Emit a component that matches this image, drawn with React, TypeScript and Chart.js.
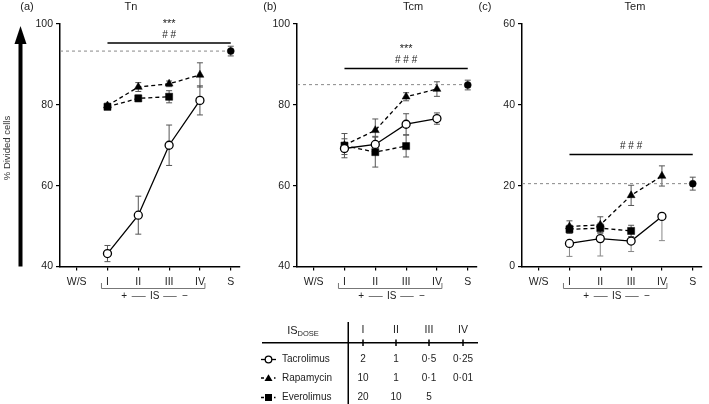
import React, { useEffect, useRef } from 'react';
import { Chart, registerables } from 'chart.js';
Chart.register(...registerables);

const FONT = '"Liberation Sans", Arial, Helvetica, sans-serif';

// ---------- data ----------
const xLabels = ['W/S', 'I', 'II', 'III', 'IV', 'S'];
const doseX = [1, 2, 3, 4];
const sX = 5;

// (a) Tn
const tnTac = [43.2, 52.7, 70.0, 81.1];
const tnTacErr = [2.0, 4.7, 5.0, 3.6];
const tnRapa = [79.8, 84.4, 85.2, 87.4];
const tnRapaErr = [0.6, 1.1, 0.7, 3.0];
const tnEver = [79.5, 81.6, 82.0];
const tnEverErr = [0.6, 0.8, 1.5];
const tnS = 93.3;
const tnSErr = 1.2;
const tnRef = 93.3;
const tnSig = 95.3;

// (b) Tcm
const tcmTac = [69.2, 70.2, 75.2, 76.6];
const tcmTacErr = [1.5, 2.0, 2.6, 1.4];
const tcmRapa = [70.0, 73.7, 82.0, 83.9];
const tcmRapaErr = [1.6, 2.8, 1.0, 1.8];
const tcmEver = [69.9, 68.3, 69.8];
const tcmEverErr = [3.0, 3.7, 2.7];
const tcmS = 84.9;
const tcmSErr = 1.2;
const tcmRef = 85.0;
const tcmSig = 89.0;

// (c) Tem
const temTac = [5.7, 6.9, 6.3, 12.4];
const temTacErr = [3.2, 4.3, 2.6, 6.0];
const temRapa = [9.9, 10.3, 17.6, 22.4];
const temRapaErr = [1.4, 2.0, 2.5, 2.5];
const temEver = [9.2, 9.5, 8.8];
const temEverErr = [1.0, 1.2, 1.4];
const temS = 20.5;
const temSErr = 1.6;
const temRef = 20.5;
const temSig = 27.7;

// table
const tableCols = ['I', 'II', 'III', 'IV'];
const drugNames = ['Tacrolimus', 'Rapamycin', 'Everolimus'];
const tacDoses = ['2', '1', '0·5', '0·25'];
const rapaDoses = ['10', '1', '0·1', '0·01'];
const everDoses = ['20', '10', '5', ''];

// ---------- layout ----------
const YW = 40;
const AREA_W = 180;
const PAD_R = 6;
const CANVAS_H = 310;
const AREA_TOP = 24;
const AREA_BOTTOM = 266.5;

type PanelCfg = {
  letter: string; title: string; x0: number; letterX: number; titleX: number;
  yMin: number; yMax: number;
  tac: number[]; tacErr: number[]; tacErrDown: boolean;
  rapa: number[]; rapaErr: number[];
  ever: number[]; everErr: number[];
  s: number; sErr: number; refY: number; sigY: number; sigTexts: string[];
};

const panels: PanelCfg[] = [
  { letter: '(a)', title: 'Tn', x0: 60, letterX: 27, titleX: 131, yMin: 40, yMax: 100,
    tac: tnTac, tacErr: tnTacErr, tacErrDown: false, rapa: tnRapa, rapaErr: tnRapaErr,
    ever: tnEver, everErr: tnEverErr, s: tnS, sErr: tnSErr, refY: tnRef, sigY: tnSig, sigTexts: ['***', '# #'] },
  { letter: '(b)', title: 'Tcm', x0: 297, letterX: 270, titleX: 413, yMin: 40, yMax: 100,
    tac: tcmTac, tacErr: tcmTacErr, tacErrDown: false, rapa: tcmRapa, rapaErr: tcmRapaErr,
    ever: tcmEver, everErr: tcmEverErr, s: tcmS, sErr: tcmSErr, refY: tcmRef, sigY: tcmSig, sigTexts: ['***', '# # #'] },
  { letter: '(c)', title: 'Tem', x0: 522, letterX: 485, titleX: 635, yMin: 0, yMax: 60,
    tac: temTac, tacErr: temTacErr, tacErrDown: true, rapa: temRapa, rapaErr: temRapaErr,
    ever: temEver, everErr: temEverErr, s: temS, sErr: temSErr, refY: temRef, sigY: temSig, sigTexts: ['# # #'] },
];

const errorBarPlugin = {
  id: 'errbars',
  beforeDatasetsDraw(chart: any) {
    const ctx = chart.ctx;
    const xs = chart.scales.x;
    const ys = chart.scales.y;
    chart.data.datasets.forEach((ds: any) => {
      if (!ds.errors) return;
      ctx.save();
      ctx.strokeStyle = ds.errColor || '#555';
      ctx.lineWidth = 1;
      ds.data.forEach((p: any, i: number) => {
        const e = ds.errors[i];
        if (e == null) return;
        const x = xs.getPixelForValue(p.x);
        const yTop = ys.getPixelForValue(p.y + (ds.errDown ? 0 : e));
        const yBot = ys.getPixelForValue(p.y - e);
        ctx.beginPath();
        ctx.moveTo(x, yTop);
        ctx.lineTo(x, yBot);
        if (!ds.errDown) {
          ctx.moveTo(x - 3, yTop);
          ctx.lineTo(x + 3, yTop);
        }
        ctx.moveTo(x - 3, yBot);
        ctx.lineTo(x + 3, yBot);
        ctx.stroke();
      });
      ctx.restore();
    });
  },
};

function Panel({ cfg }: { cfg: PanelCfg }) {
  const ref = useRef<HTMLCanvasElement>(null);
  const left = cfg.x0 - YW;
  const width = YW + AREA_W + PAD_R;

  useEffect(() => {
    const pts = (vals: number[]) => vals.map((v, i) => ({ x: doseX[i], y: v }));
    const overlay = {
      id: 'overlay',
      afterDraw(chart: any) {
        const ctx = chart.ctx;
        const xs = chart.scales.x;
        const ys = chart.scales.y;
        ctx.save();
        ctx.fillStyle = '#222';
        ctx.textAlign = 'center';
        ctx.textBaseline = 'middle';
        // significance labels
        const mid = (xs.getPixelForValue(1) + xs.getPixelForValue(5)) / 2;
        const ly = ys.getPixelForValue(cfg.sigY);
        const n = cfg.sigTexts.length;
        cfg.sigTexts.forEach((t, i) => {
          const off = 8 + (n - 1 - i) * 14;
          const isStar = t.indexOf('*') >= 0;
          ctx.font = `${isStar ? 11 : 10}px ${FONT}`;
          ctx.fillText(t, mid, ly - off + (isStar ? 3 : 0));
        });
        // bracket under I..IV
        const p1 = xs.getPixelForValue(1);
        const p4 = xs.getPixelForValue(4);
        const b1 = p1 - 6;
        const b2 = p4 + 5;
        ctx.strokeStyle = '#777';
        ctx.lineWidth = 1;
        ctx.beginPath();
        ctx.moveTo(b1, 283);
        ctx.lineTo(b1, 288.5);
        ctx.lineTo(b2, 288.5);
        ctx.lineTo(b2, 283);
        ctx.stroke();
        const m = (p1 + p4) / 2;
        ctx.font = `10px ${FONT}`;
        ctx.fillText('+', m - 29.5, 296.5);
        ctx.fillText('IS', m + 1, 296.5);
        ctx.fillText('−', m + 31.5, 296.5);
        ctx.beginPath();
        ctx.moveTo(m - 22, 296.5);
        ctx.lineTo(m - 8, 296.5);
        ctx.moveTo(m + 9.5, 296.5);
        ctx.lineTo(m + 23, 296.5);
        ctx.stroke();
        ctx.restore();
      },
    };

    const tickFont = { family: FONT, size: 10.5 };
    const chart = new Chart(ref.current as HTMLCanvasElement, {
      type: 'line',
      data: {
        datasets: [
          {
            data: pts(cfg.tac), errors: cfg.tacErr, errDown: cfg.tacErrDown, errColor: cfg.tacErrDown ? '#888' : '#555',
            borderColor: '#000', borderWidth: 1.3, pointStyle: 'circle', pointRadius: 4,
            pointBackgroundColor: '#fff', pointBorderColor: '#000', pointBorderWidth: 1.3, clip: false,
          } as any,
          {
            data: pts(cfg.rapa), errors: cfg.rapaErr,
            borderColor: '#000', borderWidth: 1.3, borderDash: [4, 3], pointStyle: 'triangle', pointRadius: 4.6,
            pointBackgroundColor: '#000', pointBorderColor: '#000', pointBorderWidth: 0.5, clip: false,
          } as any,
          {
            data: pts(cfg.ever), errors: cfg.everErr,
            borderColor: '#000', borderWidth: 1.3, borderDash: [4, 3], pointStyle: 'rect', pointRadius: 5,
            pointBackgroundColor: '#000', pointBorderColor: '#000', pointBorderWidth: 0.5, clip: false,
          } as any,
          {
            data: [{ x: sX, y: cfg.s }], errors: [cfg.sErr],
            showLine: false, pointStyle: 'circle', pointRadius: 3.5,
            pointBackgroundColor: '#000', pointBorderColor: '#000', pointBorderWidth: 0.5, clip: false,
          } as any,
          {
            data: [{ x: -0.54, y: cfg.refY }, { x: sX, y: cfg.refY }],
            borderColor: '#888', borderWidth: 1, borderDash: [3, 3], pointRadius: 0, clip: false,
          } as any,
          {
            data: [{ x: 1, y: cfg.sigY }, { x: sX, y: cfg.sigY }],
            borderColor: '#000', borderWidth: 1.4, pointRadius: 0, clip: false,
          } as any,
        ],
      },
      options: {
        animation: false,
        responsive: false,
        devicePixelRatio: 1,
        layout: { padding: { top: AREA_TOP, right: PAD_R, left: 0, bottom: 0 } },
        plugins: { legend: { display: false }, tooltip: { enabled: false }, title: { display: false } },
        scales: {
          x: {
            type: 'linear', min: -0.54, max: 5.3,
            afterBuildTicks: (s: any) => { s.ticks = [0, 1, 2, 3, 4, 5].map((v) => ({ value: v })); },
            afterFit: (s: any) => { s.height = CANVAS_H - AREA_BOTTOM; },
            ticks: {
              autoSkip: false, maxRotation: 0, minRotation: 0, padding: 5, color: '#222', font: tickFont,
              callback: (v: any) => xLabels[v] ?? '',
            },
            grid: { drawOnChartArea: false, drawTicks: true, tickLength: 4, color: '#000', lineWidth: 1.2 },
            border: { display: true, color: '#000', width: 1.5 },
          },
          y: {
            type: 'linear', min: cfg.yMin, max: cfg.yMax,
            afterFit: (s: any) => { s.width = YW; },
            ticks: { stepSize: 20, padding: 3, color: '#222', font: tickFont },
            grid: { drawOnChartArea: false, drawTicks: true, tickLength: 4, color: '#000', lineWidth: 1.2 },
            border: { display: true, color: '#000', width: 1.5 },
          },
        },
      } as any,
      plugins: [errorBarPlugin, overlay],
    });
    return () => chart.destroy();
  }, []);

  return (
    <canvas
      ref={ref}
      width={width}
      height={CANVAS_H}
      style={{ position: 'absolute', left, top: 0, width, height: CANVAS_H }}
    />
  );
}

const colX = [363, 396, 429, 463];
const rowY = [359.5, 378, 397.5];

// Background canvas: panel letters/titles, arrow, y label and the dose table
function Decor() {
  const ref = useRef<HTMLCanvasElement>(null);
  useEffect(() => {
    const c = ref.current as HTMLCanvasElement;
    const ctx = c.getContext('2d') as CanvasRenderingContext2D;
    ctx.clearRect(0, 0, 709, 404);
    ctx.fillStyle = '#222';
    ctx.strokeStyle = '#000';
    ctx.textBaseline = 'middle';
    ctx.textAlign = 'center';
    ctx.font = `11px ${FONT}`;
    panels.forEach((p) => {
      ctx.fillText(p.letter, p.letterX, 7);
      ctx.fillText(p.title, p.titleX, 7);
    });
    // arrow
    ctx.lineWidth = 4;
    ctx.beginPath();
    ctx.moveTo(20.5, 42);
    ctx.lineTo(20.5, 266.5);
    ctx.stroke();
    ctx.beginPath();
    ctx.moveTo(20.5, 26);
    ctx.lineTo(14.5, 44);
    ctx.lineTo(26.5, 44);
    ctx.closePath();
    ctx.fillStyle = '#000';
    ctx.fill();
    // rotated label
    ctx.save();
    ctx.translate(7, 148);
    ctx.rotate(-Math.PI / 2);
    ctx.fillStyle = '#333';
    ctx.font = `9.5px ${FONT}`;
    ctx.fillText('% Divided cells', 0, 0);
    ctx.restore();

    // table
    ctx.fillStyle = '#222';
    ctx.font = `11px ${FONT}`;
    ctx.textAlign = 'left';
    const isW = ctx.measureText('IS').width;
    ctx.font = `7.5px ${FONT}`;
    const dW = ctx.measureText('DOSE').width;
    const hx = 303 - (isW + dW) / 2;
    ctx.font = `11px ${FONT}`;
    ctx.fillText('IS', hx, 331);
    ctx.font = `7.5px ${FONT}`;
    ctx.fillText('DOSE', hx + isW, 334);
    ctx.lineWidth = 1.5;
    ctx.beginPath();
    ctx.moveTo(348.25, 322);
    ctx.lineTo(348.25, 404);
    ctx.moveTo(262, 342.75);
    ctx.lineTo(478, 342.75);
    colX.forEach((x) => {
      ctx.moveTo(x, 339.5);
      ctx.lineTo(x, 346);
    });
    ctx.stroke();
    ctx.textAlign = 'center';
    ctx.font = `10.5px ${FONT}`;
    tableCols.forEach((t, i) => ctx.fillText(t, colX[i], 330.5));
    const doses = [tacDoses, rapaDoses, everDoses];
    drugNames.forEach((d, r) => {
      const y = rowY[r];
      ctx.font = `10px ${FONT}`;
      ctx.textAlign = 'left';
      ctx.fillStyle = '#222';
      ctx.fillText(d, 282, y);
      ctx.textAlign = 'center';
      doses[r].forEach((v, i) => {
        if (v) ctx.fillText(v, colX[i], y);
      });
      // legend symbol
      ctx.save();
      ctx.strokeStyle = '#000';
      ctx.fillStyle = '#000';
      ctx.lineWidth = 1.3;
      if (r === 0) {
        ctx.beginPath();
        ctx.moveTo(261, y);
        ctx.lineTo(276, y);
        ctx.stroke();
        ctx.beginPath();
        ctx.arc(268.5, y, 3.3, 0, Math.PI * 2);
        ctx.fillStyle = '#fff';
        ctx.fill();
        ctx.stroke();
      } else {
        ctx.beginPath();
        ctx.moveTo(261, y);
        ctx.lineTo(264, y);
        ctx.moveTo(274, y);
        ctx.lineTo(275.5, y);
        ctx.stroke();
        ctx.beginPath();
        if (r === 1) {
          ctx.moveTo(268.5, y - 3.8);
          ctx.lineTo(272.5, y + 3);
          ctx.lineTo(264.5, y + 3);
          ctx.closePath();
        } else {
          ctx.rect(265, y - 3.5, 7, 7);
        }
        ctx.fill();
      }
      ctx.restore();
    });
  }, []);
  return <canvas ref={ref} width={709} height={404} style={{ position: 'absolute', left: 0, top: 0, width: 709, height: 404 }} />;
}

export default function App() {
  return (
    <div style={{ position: 'fixed', left: 0, top: 0, width: 709, height: 404, background: '#fff', overflow: 'hidden' }}>
      <Decor />
      {panels.map((p) => (
        <Panel key={p.letter} cfg={p} />
      ))}
    </div>
  );
}
